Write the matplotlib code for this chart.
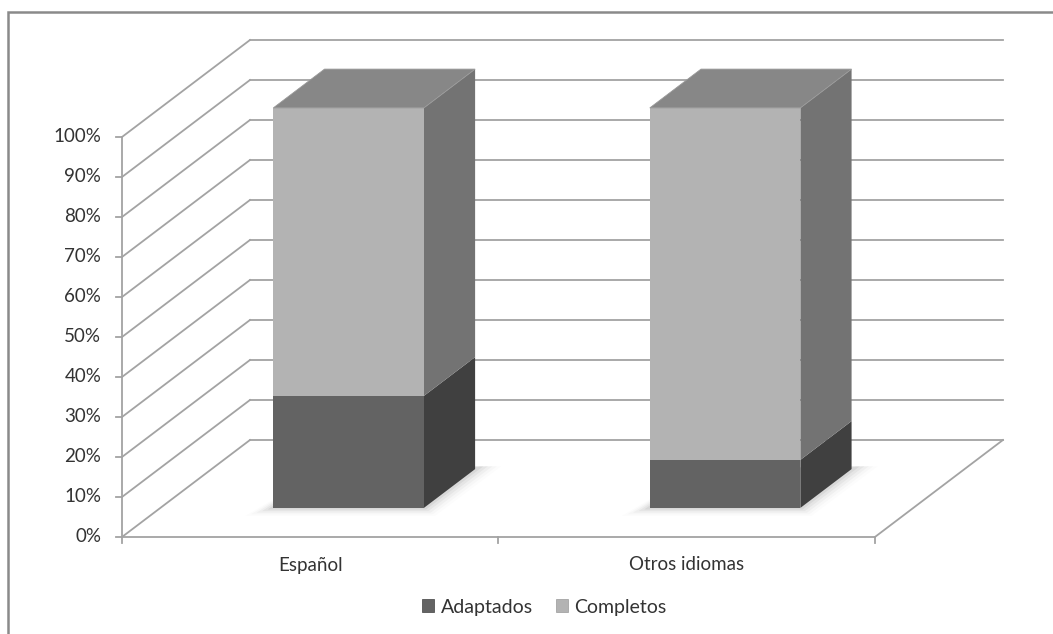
import matplotlib
matplotlib.use("Agg")
import matplotlib.pyplot as plt
from matplotlib.patches import Polygon, Patch, Rectangle
import numpy as np

# datos del grafico (porcentajes apilados)
categorias = ["Español", "Otros idiomas"]
series = ["Adaptados", "Completos"]
adaptados = [28, 12]
completos = [72, 88]
ticks_y = [0, 10, 20, 30, 40, 50, 60, 70, 80, 90, 100]

colores_frente = ["#636363", "#b3b3b3"]
colores_lado = ["#404040", "#737373"]
color_techo = "#878787"
color_rejilla = "#a3a3a3"
color_texto = "#333333"

# desplazamiento de profundidad (unidades de categoria / porcentaje)
DX = 0.34
DY = 24.25
ancho = 0.4
z0, z1 = 0.3, 0.7

plt.rcParams["font.family"] = ["Lato", "DejaVu Sans"]

fig = plt.figure(figsize=(10.53, 6.34), dpi=100)
ax = fig.add_axes([0, 0, 1, 1])
ax.set_xlim(-0.324, 2.473)
ax.set_ylim(-24.25, 134.25)
ax.axis("off")

# marco exterior
fig.patches.append(Rectangle((8 / 1053, -0.1), 1.2, 1 - 12 / 634 + 0.1,
                             transform=fig.transFigure, fill=False,
                             edgecolor="#8a8a8a", lw=1.8))

n = len(categorias)

# pared izquierda y pared del fondo
for v in ticks_y:
    ax.plot([0, DX], [v, v + DY], color=color_rejilla, lw=1.3, zorder=1)
    ax.plot([DX, n + DX], [v + DY, v + DY], color=color_rejilla, lw=1.3, zorder=1)
    ax.plot([-0.016, 0], [v, v], color=color_rejilla, lw=1.3, zorder=1)
    ax.text(-0.055, v, f"{v}%", ha="right", va="center", fontsize=13.5,
            color=color_texto)

# eje vertical y suelo
ax.plot([0, 0], [0, 100], color=color_rejilla, lw=1.3, zorder=1)
ax.plot([0, n], [0, 0], color=color_rejilla, lw=1.3, zorder=1)
ax.plot([n, n + DX], [0, DY], color=color_rejilla, lw=1.3, zorder=1)
for i in range(n + 1):
    ax.plot([i, i], [0, -1.5], color=color_rejilla, lw=1.3, zorder=1)

# etiquetas de categoria
for i, c in enumerate(categorias):
    ax.text(i + 0.5, -7, c, ha="center", va="center", fontsize=13.5,
            color=color_texto)


def punto(x, y, z):
    return (x + z * DX, y + z * DY)


# columnas apiladas en 3D
for i in range(n):
    xa = i + 0.5 - ancho / 2
    xb = i + 0.5 + ancho / 2

    # sombra suave en el suelo
    for k, a in enumerate(np.linspace(0.05, 0.01, 5)):
        e = 0.006 * (k + 1)
        sombra = [punto(xa - e * 2.5, -0.4 * (k + 1), z0),
                  punto(xb + e, -0.4 * (k + 1), z0),
                  punto(xb + e * 2, 0, z1 + 0.03), punto(xa, 0, z1)]
        ax.add_patch(Polygon(sombra, closed=True, facecolor="black",
                             edgecolor="none", alpha=a, zorder=2))

    base = 0
    valores = [adaptados[i], completos[i]]
    for j, v in enumerate(valores):
        y0, y1 = base, base + v
        frente = [punto(xa, y0, z0), punto(xb, y0, z0),
                  punto(xb, y1, z0), punto(xa, y1, z0)]
        lado = [punto(xb, y0, z0), punto(xb, y0, z1),
                punto(xb, y1, z1), punto(xb, y1, z0)]
        ax.add_patch(Polygon(lado, closed=True, facecolor=colores_lado[j],
                             edgecolor="none", zorder=3))
        ax.add_patch(Polygon(frente, closed=True, facecolor=colores_frente[j],
                             edgecolor="none", zorder=4))
        base = y1
    techo = [punto(xa, base, z0), punto(xb, base, z0),
             punto(xb, base, z1), punto(xa, base, z1)]
    ax.add_patch(Polygon(techo, closed=True, facecolor=color_techo,
                         edgecolor="#999999", lw=0.6, zorder=4))

# leyenda
manejadores = [Patch(facecolor=colores_frente[0], edgecolor="#404040", lw=0.5),
               Patch(facecolor=colores_frente[1], edgecolor="#9a9a9a", lw=0.5)]
leg = fig.legend(manejadores, series, loc="center",
                 bbox_to_anchor=(0.517, 1 - 607 / 634), ncol=2, frameon=False,
                 fontsize=14, handlelength=0.6, handleheight=0.6,
                 handletextpad=0.35, columnspacing=1.2)
for t in leg.get_texts():
    t.set_color(color_texto)

fig.savefig("out.png", dpi=100, facecolor="white")
